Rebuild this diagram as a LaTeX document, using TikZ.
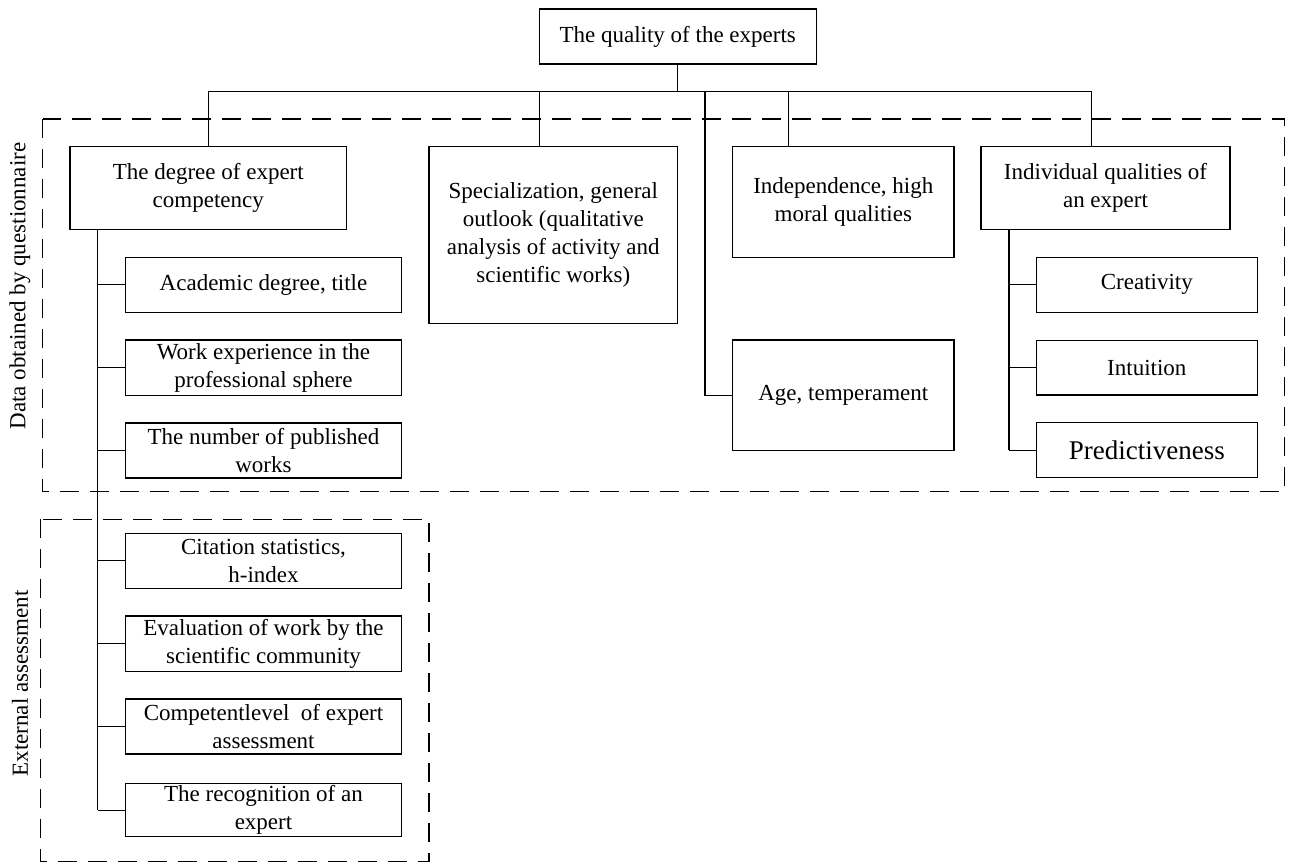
\documentclass[tikz,border=0pt]{standalone}
\usepackage{fontspec}
\setmainfont{Liberation Serif}
\begin{document}
\begin{tikzpicture}[x=1pt,y=-1pt,
  box/.style={draw,line width=1.2pt,inner sep=0pt,align=center,
    font=\fontsize{23}{28}\selectfont},
  conn/.style={line width=1.2pt},
  group/.style={line width=1.2pt,dash pattern=on 19pt off 11pt},
  lbl/.style={rotate=90,inner sep=0pt,font=\fontsize{23}{28}\selectfont}]
\useasboundingbox (0,0) rectangle (1289,864);

% groups
\draw[group] (42.7,119) rectangle (1284.3,491.7);
\draw[group] (40.3,519.3) rectangle (429,861.5);
\node[lbl] (lq) at (20,286) {Data obtained by questionnaire};
\node[lbl] (le) at (20,683.5) {External assessment};

% boxes
\node[box,minimum width=277pt,minimum height=55pt] (top) at (677.7,36.5) {The quality of the experts};
\node[box,minimum width=276.7pt,minimum height=83pt] (deg) at (208.3,188.2) {The degree of expert\\competency};
\node[box,minimum width=248.7pt,minimum height=176.7pt] (spec) at (553.3,235) {Specialization, general\\outlook (qualitative\\analysis of activity and\\scientific works)};
\node[box,minimum width=221.3pt,minimum height=110.7pt] (indep) at (843.3,202) {Independence, high\\moral qualities};
\node[box,minimum width=221.3pt,minimum height=110.3pt] (age) at (843.3,395.2) {Age, temperament};
\node[box,minimum width=249pt,minimum height=83pt] (indiv) at (1105.5,188.2) {Individual qualities of\\an expert};
\node[box,minimum width=221pt,minimum height=55pt] (creat) at (1146.8,284.8) {Creativity};
\node[box,minimum width=221pt,minimum height=54.7pt] (intu) at (1146.8,367.7) {Intuition};
\node[box,minimum width=221pt,minimum height=55pt,font=\fontsize{27}{32}\selectfont] (pred) at (1146.8,450.2) {Predictiveness};

\node[box,minimum width=276.4pt,minimum height=55pt] (acad) at (263.5,284.8) {Academic degree, title};
\node[box,minimum width=276.4pt,minimum height=55.3pt] (work) at (263.5,367.7) {Work experience in the\\professional sphere};
\node[box,minimum width=276.4pt,minimum height=55pt] (numb) at (263.5,450.5) {The number of published\\works};
\node[box,minimum width=276.4pt,minimum height=55pt] (cit) at (263.5,560.8) {Citation statistics,\\h-index};
\node[box,minimum width=276.4pt,minimum height=55.3pt] (eval) at (263.5,643.7) {Evaluation of work by the\\scientific community};
\node[box,minimum width=276.4pt,minimum height=55pt] (comp) at (263.5,726.5) {Competentlevel\ \ of expert\\assessment};
\node[box,minimum width=276.4pt,minimum height=53pt] (recog) at (263.5,810.2) {The recognition of an\\expert};

% bus
\coordinate (busL) at (208.3,91.7);
\coordinate (busR) at (1091.7,91.7);
\coordinate (bSpec) at (539.3,91.7);
\coordinate (bAge) at (705,91.7);
\coordinate (bInd) at (788.3,91.7);
\coordinate (spL) at (97.7,0);
\coordinate (spR) at (1009,0);

\draw[conn] (top.south) -- (top.south |- busL);
\draw[conn] (busL) -- (busR);
\draw[conn] (busL) -- (deg.north);
\draw[conn] (bSpec) -- (bSpec |- spec.north);
\draw[conn] (bInd) -- (bInd |- indep.north);
\draw[conn] (busR) -- (busR |- indiv.north);
\draw[conn] (bAge) |- (age.west);

% left spine
\draw[conn] (spL |- deg.south) -- (spL |- recog.west);
\foreach \n in {acad,work,numb,cit,eval,comp,recog}
  \draw[conn] (spL |- \n.west) -- (\n.west);

% right spine
\draw[conn] (spR |- indiv.south) -- (spR |- pred.west);
\foreach \n in {creat,intu,pred}
  \draw[conn] (spR |- \n.west) -- (\n.west);
\end{tikzpicture}
\end{document}
